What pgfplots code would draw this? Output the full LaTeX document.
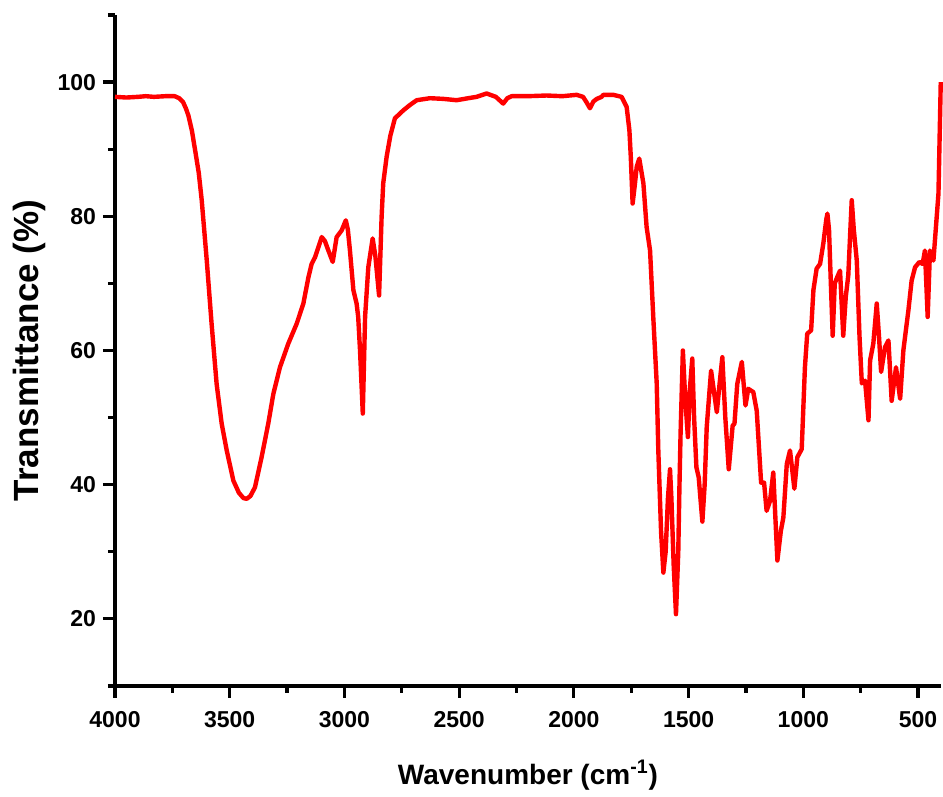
\documentclass[border=0pt]{standalone}
\usepackage{fontspec}
\setmainfont{Liberation Sans}
\usepackage{pgfplots}
\pgfplotsset{compat=1.18}

\begin{document}
\begin{tikzpicture}
\begin{axis}[
  width=413pt, height=335.5pt, scale only axis,
  x dir=reverse,
  xmin=400, xmax=4000, ymin=10, ymax=110,
  axis x line*=bottom, axis y line*=left,
  axis line style={line width=1.7pt, black},
  xtick={500,1000,...,4000},
  ytick={20,40,...,100},
  minor xtick={750,1250,...,3750},
  minor ytick={10,30,...,110},
  tick align=outside,
  major tick length=6pt, minor tick length=3.5pt,
  every tick/.style={line width=1.6pt, black},
  tick label style={font=\fontsize{11.5}{14}\selectfont\bfseries},
  xticklabel style={yshift=-3pt},
  /pgf/number format/assume math mode=true,
  /pgf/number format/1000 sep={},
  xlabel={Wavenumber (cm\textsuperscript{-1})},
  ylabel={Transmittance (\%)},
  xlabel style={font=\fontsize{14}{16}\selectfont\bfseries,
    at={(axis description cs:0.5,-0.1326)}, anchor=center},
  ylabel style={font=\fontsize{17.5}{19}\selectfont\bfseries,
    at={(axis description cs:-0.103,0.5)}, anchor=center},
  clip=false,
]
\addplot[red, line width=2.2pt, line join=round] coordinates {
(4000,97.8) (3950,97.7) (3900,97.8) (3866,97.9) (3830,97.8) (3780,97.9)
(3740,97.9) (3720,97.6) (3703,97.0) (3690,96.0) (3680,95.0) (3665,92.8)
(3651,89.9) (3635,86.5) (3622,82.4) (3600,73.4) (3579,64.0) (3557,55.0)
(3535,49.1) (3513,45.1) (3484,40.6) (3460,38.8) (3440,38.0) (3426,37.9)
(3410,38.3) (3390,39.6) (3361,44.1) (3332,49.1) (3310,53.5) (3281,57.5)
(3245,61.0) (3208,64.0) (3179,67.0) (3157,70.9) (3143,72.9) (3128,73.9)
(3099,76.9) (3085,76.3) (3070,74.9) (3051,73.2) (3034,76.9) (3012,77.9)
(2994,79.4) (2985,78.0) (2976,74.9) (2961,69.0) (2947,67.0) (2940,65.0)
(2932,60.0) (2920,50.6) (2910,65.0) (2896,72.4) (2877,76.7) (2865,74.0)
(2849,68.2) (2838,79.9) (2831,84.9) (2816,88.9) (2800,92.0) (2780,94.6)
(2743,95.8) (2714,96.6) (2685,97.3) (2627,97.6) (2570,97.5) (2511,97.3)
(2460,97.6) (2424,97.8) (2380,98.3) (2340,97.8) (2308,96.8) (2290,97.6)
(2271,97.9) (2200,97.9) (2119,98.0) (2050,97.9) (1988,98.1) (1960,97.8)
(1945,97.0) (1930,96.1) (1915,97.1) (1900,97.5) (1879,97.8) (1872,98.1)
(1828,98.1) (1792,97.8) (1770,96.3) (1758,92.8) (1752,88.9) (1744,81.9)
(1735,84.5) (1726,87.4) (1715,88.6) (1697,84.9) (1683,78.4) (1668,74.9)
(1654,65.0) (1639,55.1) (1632,45.1) (1620,33.0) (1610,26.9) (1600,30.0)
(1590,38.0) (1581,42.3) (1575,38.0) (1565,28.0) (1555,20.7) (1545,30.0)
(1540,39.6) (1535,47.6) (1525,60.0) (1515,53.0) (1503,47.1) (1495,54.0)
(1484,58.8) (1476,50.0) (1466,42.6) (1456,41.1) (1440,34.5) (1430,40.0)
(1421,48.6) (1402,57.0) (1390,54.0) (1377,50.8) (1365,55.0) (1353,59.0)
(1340,50.0) (1325,42.3) (1308,48.8) (1300,49.1) (1288,55.0) (1268,58.3)
(1260,55.0) (1252,51.8) (1240,54.3) (1218,53.8) (1203,51.0) (1184,40.3)
(1171,40.3) (1160,36.1) (1145,37.6) (1131,41.8) (1113,28.7) (1098,33.1)
(1087,35.1) (1072,43.1) (1058,45.1) (1039,39.4) (1026,44.1) (1007,45.3)
(993,57.5) (983,62.5) (966,63.0) (956,69.0) (942,72.2) (927,72.9)
(913,75.9) (900,79.5) (895,80.4) (888,78.0) (880,70.0) (872,62.2)
(863,70.0) (855,70.7) (840,71.9) (826,62.2) (815,68.0) (804,71.2)
(795,78.0) (789,82.4) (780,78.0) (767,73.4) (755,62.0) (745,55.1)
(731,55.5) (716,49.6) (709,58.5) (695,61.0) (680,67.0) (670,62.0)
(661,56.8) (644,60.5) (629,61.5) (615,52.5) (596,57.5) (578,52.8)
(564,60.0) (542,66.0) (528,70.4) (513,72.4) (494,73.2) (480,72.9)
(470,74.9) (458,65.0) (448,74.9) (433,73.4) (411,83.4) (401,100.0)
};
\end{axis}
% page frame: margins for the labels below and to the left, a strip above
\pgfresetboundingbox
\path[use as bounding box]
  ([shift={(-57.5pt,-55.5pt)}]current axis.south west)
  rectangle ([shift={(1pt,7.5pt)}]current axis.north east);
\end{tikzpicture}
\end{document}
